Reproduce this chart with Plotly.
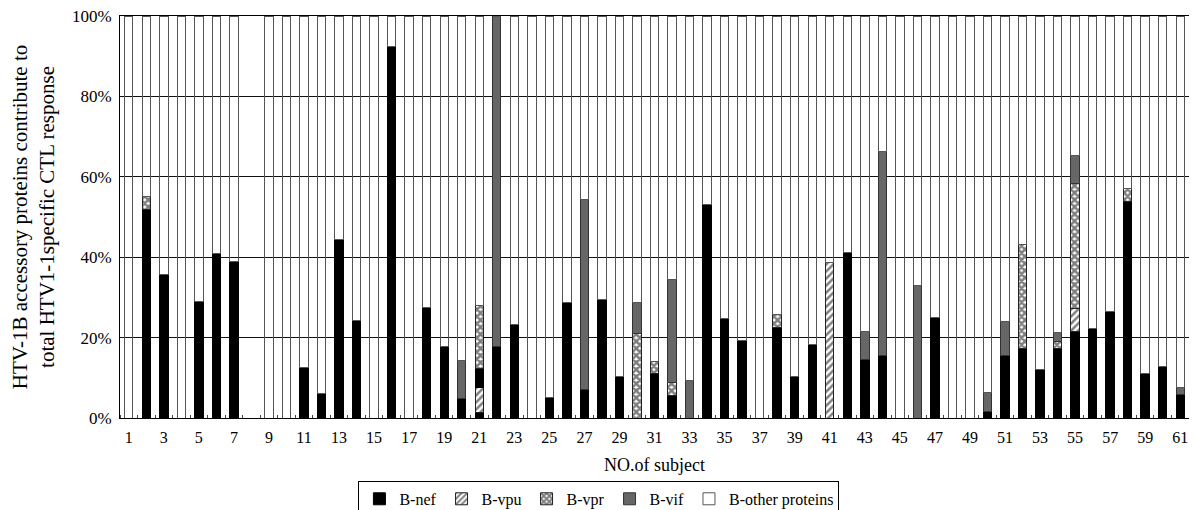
import plotly.graph_objects as go

subjects = list(range(1, 62))

b_nef = [0, 51.8, 35.6, 0, 29, 41, 39, 0, 0, 0,
         12.5, 6, 44.5, 24.2, 0, 92.4, 0, 27.6, 17.9, 4.8,
         1.4, 17.9, 23.3, 0, 5.1, 28.7, 7, 29.5, 10.3, 0,
         11.1, 5.6, 0, 53.1, 24.8, 19.3, 0, 22.6, 10.3, 18.4,
         0, 41.1, 14.5, 15.5, 0, 0, 25.1, 0, 0, 1.7,
         15.5, 17.4, 12, 17.2, 21.6, 22.3, 26.5, 53.9, 11, 12.8,
         5.8]
# second black (B-nef) segment drawn above B-vpu in subject 21
b_nef_upper = {21: 4.6}
b_vpu = {21: 6.2, 41: 38.8, 55: 5.6}
b_vpr = {2: 3.2, 21: 15.8, 30: 20.9, 31: 3.0, 32: 3.3, 38: 3.1,
         52: 25.8, 54: 1.9, 55: 31.1, 58: 3.2}
b_vif = {20: 9.5, 22: 82.1, 27: 47.4, 30: 7.8, 32: 25.5, 33: 9.3,
         43: 7.1, 44: 50.9, 46: 33, 50: 4.7, 51: 8.6, 54: 2.2,
         55: 7.1, 61: 1.8}
b_other = [100, 45, 64.4, 100, 71, 59, 61, 0, 100, 100,
           87.5, 94, 55.5, 75.8, 100, 7.6, 100, 72.4, 82.1, 85.7,
           72, 0, 76.7, 100, 94.9, 71.3, 45.6, 70.5, 89.7, 71.3,
           85.9, 65.6, 90.7, 46.9, 75.2, 80.7, 100, 74.3, 89.7, 81.6,
           61.2, 58.9, 78.4, 33.6, 100, 67, 74.9, 100, 100, 93.6,
           75.9, 56.8, 88, 78.7, 34.6, 77.7, 73.5, 42.9, 89, 87.2,
           92.4]

x_ticks = list(range(1, 62, 2))
y_ticks = [0, 20, 40, 60, 80, 100]
y_ticktext = ["0%", "20%", "40%", "60%", "80%", "100%"]


def full(d):
    return [d.get(s, 0) for s in subjects]


FONT = "Liberation Serif, Times New Roman, serif"
outline = dict(color="#555555", width=1)

fig = go.Figure()
fig.add_bar(x=subjects, y=b_nef, name="B-nef", legendgroup="nef",
            marker=dict(color="black", line=dict(color="black", width=1)))
fig.add_bar(x=subjects, y=full(b_vpu), name="B-vpu", legendgroup="vpu",
            marker=dict(color="white", line=dict(color="#222222", width=1),
                        pattern=dict(shape="/", fgcolor="black", bgcolor="white",
                                     size=5, solidity=0.5)))
fig.add_bar(x=subjects, y=full(b_nef_upper), name="B-nef", legendgroup="nef",
            showlegend=False,
            marker=dict(color="black", line=dict(color="black", width=1)))
fig.add_bar(x=subjects, y=full(b_vpr), name="B-vpr", legendgroup="vpr",
            marker=dict(color="white", line=dict(color="#222222", width=1),
                        pattern=dict(shape="x", fgcolor="black", bgcolor="white",
                                     size=5, solidity=0.75)))
fig.add_bar(x=subjects, y=full(b_vif), name="B-vif", legendgroup="vif",
            marker=dict(color="#666666", line=dict(color="#333333", width=1)))
fig.add_bar(x=subjects, y=b_other, name="B-other proteins", legendgroup="oth",
            marker=dict(color="rgba(255,255,255,0)", line=outline))

# the page body adds an 8px margin, so the figure is sized to fill the rest
fig.update_layout(
    width=1189, height=502,
    barmode="stack", bargap=0.52,
    plot_bgcolor="white", paper_bgcolor="white",
    margin=dict(l=112, r=8, t=8, b=92, autoexpand=False),
    font=dict(family=FONT, size=16, color="black"),
    legend=dict(orientation="h", xref="container", yref="container",
                x=0.497, xanchor="center", y=0.058, yanchor="top",
                bordercolor="black", borderwidth=1, font=dict(size=16),
                itemwidth=30, tracegroupgap=0, traceorder="normal"),
    showlegend=True,
)
fig.update_xaxes(range=[0.5, 61.5], tickmode="array", tickvals=x_ticks,
                 ticks="", showgrid=False, showline=True, linecolor="black",
                 linewidth=1, mirror=True, automargin=False,
                 ticklabelstandoff=5, ticklabeloverflow="allow",
                 minor=dict(tickmode="linear", tick0=0.5, dtick=1, ticks="inside",
                            ticklen=3, tickcolor="#444444", showgrid=False),
                 title=dict(text="NO.of subject", standoff=13, font=dict(size=18)),
                 tickfont=dict(size=16))
fig.update_yaxes(range=[0, 100], tickmode="array", tickvals=y_ticks,
                 ticktext=y_ticktext, showgrid=True, gridcolor="#111111",
                 gridwidth=1, showline=True, linecolor="black", linewidth=1,
                 mirror=True, ticks="", zeroline=False, automargin=False,
                 ticklabelstandoff=4, ticklabeloverflow="allow",
                 title=dict(text="HTV-1B accessory proteins contribute to<br>total HTV1-1specific CTL response",
                            standoff=21, font=dict(size=21)),
                 tickfont=dict(size=17))

fig.write_html("out.html")
